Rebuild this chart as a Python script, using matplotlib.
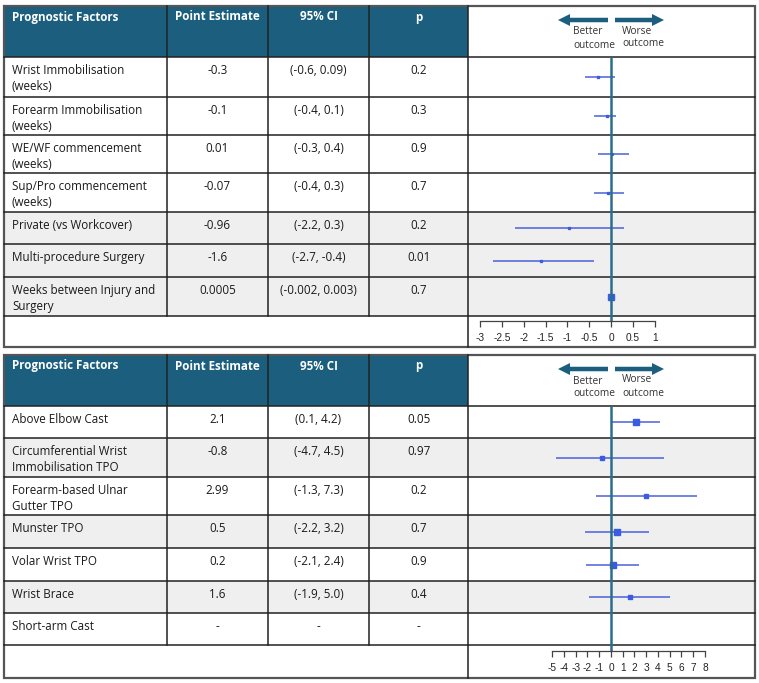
import matplotlib.pyplot as plt
import matplotlib.patches as mpatches
import numpy as np

plt.rcParams['font.family'] = ['Open Sans', 'DejaVu Sans']

# ---- data: top table (post-operative factors)
top_factors = ["Wrist Immobilisation\n(weeks)", "Forearm Immobilisation\n(weeks)",
               "WE/WF commencement\n(weeks)", "Sup/Pro commencement\n(weeks)",
               "Private (vs Workcover)", "Multi-procedure Surgery",
               "Weeks between Injury and\nSurgery"]
top_est = [-0.3, -0.1, 0.01, -0.07, -0.96, -1.6, 0.0005]
top_lo = [-0.6, -0.4, -0.3, -0.4, -2.2, -2.7, -0.002]
top_hi = [0.09, 0.1, 0.4, 0.3, 0.3, -0.4, 0.003]
top_p = ["0.2", "0.3", "0.9", "0.7", "0.2", "0.01", "0.7"]
top_ticks = np.arange(-3, 1.01, 0.5)

# ---- data: bottom table (immobilisation type)
bot_factors = ["Above Elbow Cast", "Circumferential Wrist\nImmobilisation TPO",
               "Forearm-based Ulnar\nGutter TPO", "Munster TPO", "Volar Wrist TPO",
               "Wrist Brace", "Short-arm Cast"]
bot_est = [2.1, -0.8, 2.99, 0.5, 0.2, 1.6, None]
bot_lo = [0.1, -4.7, -1.3, -2.2, -2.1, -1.9, None]
bot_hi = [4.2, 4.5, 7.3, 3.2, 2.4, 5.0, None]
bot_p = ["0.05", "0.97", "0.2", "0.7", "0.9", "0.4", "-"]
bot_ticks = np.arange(-5, 9, 1)

headers = ["Prognostic Factors", "Point Estimate", "95% CI", "p"]

# ---- layout / style
W, H = 759, 683
col_x = [4, 167, 268, 369, 468, 755]
top_rows = [6, 57, 97, 135, 173, 212, 244, 277, 316, 347]
bot_rows = [355, 406, 438, 477, 515, 548, 581, 613, 645, 678]
top_shade = [False, False, False, False, True, True, True]
bot_shade = [False, True, False, True, False, True, False]
top_msize = [1.6, 1.6, 1.2, 1.6, 1.4, 1.4, 5]
bot_msize = [5, 2.4, 3.2, 4.2, 4.2, 3.2, 0]
top_xlim = (-3.274, 3.286)
bot_xlim = (-12.17, 12.26)
top_axis_y, bot_axis_y = 320.7, 651

head_col = '#1b5e7e'
teal = '#2b6e8c'
bar_col = '#4a62d8'
shade_col = '#efefef'
txt_col = '#1a1a1a'
fs = 8.4

fig = plt.figure(figsize=(W / 100, H / 100), dpi=100)
ax = fig.add_axes([0, 0, 1, 1])
ax.set_xlim(0, W)
ax.set_ylim(H, 0)
ax.axis('off')


def draw_table(rows, factors, est, lo, hi, pvals, shade):
    top, bottom = rows[0], rows[-1]
    # header cells
    ax.add_patch(mpatches.Rectangle((col_x[0], top), col_x[4] - col_x[0], rows[1] - top,
                                    facecolor=head_col, edgecolor='none'))
    for i, h in enumerate(headers):
        if i == 0:
            ax.text(col_x[0] + 8, top + 11, h, color='white', fontsize=fs,
                    fontweight='bold', ha='left', va='center')
        else:
            ax.text((col_x[i] + col_x[i + 1]) / 2, top + 11, h, color='white',
                    fontsize=fs, fontweight='bold', ha='center', va='center')
    # body rows
    for r in range(len(factors)):
        y0, y1 = rows[r + 1], rows[r + 2]
        if shade[r]:
            ax.add_patch(mpatches.Rectangle((col_x[0], y0), col_x[5] - col_x[0], y1 - y0,
                                            facecolor=shade_col, edgecolor='none'))
        for k, line in enumerate(factors[r].split('\n')):
            ax.text(col_x[0] + 8, y0 + 13.5 + 16 * k, line, fontsize=fs, color=txt_col,
                    ha='left', va='center')
        if est[r] is None:
            cells = ['-', '-', pvals[r]]
        else:
            cells = [str(est[r]), f"({lo[r]}, {hi[r]})", pvals[r]]
        for c, s in enumerate(cells):
            ax.text((col_x[c + 1] + col_x[c + 2]) / 2, y0 + 13.5, s, fontsize=fs,
                    color=txt_col, ha='center', va='center')
    # grid lines
    for y in rows[1:-1]:
        ax.plot([col_x[0], col_x[5]], [y, y], color='#222222', lw=1.1)
    for x in col_x[1:4]:
        ax.plot([x, x], [top, rows[-2]], color='#222222', lw=1.1)
    ax.plot([col_x[4], col_x[4]], [top, bottom], color='#222222', lw=1.1)
    ax.add_patch(mpatches.Rectangle((col_x[0], top), col_x[5] - col_x[0], bottom - top,
                                    facecolor='none', edgecolor='#555555', lw=1.6))
    # direction arrows
    ay = top + 14
    ax.add_patch(mpatches.FancyArrow(608, ay, -38, 0, width=4.5, head_width=12,
                                     head_length=12, color=head_col, lw=0))
    ax.add_patch(mpatches.FancyArrow(615, ay, 37, 0, width=4.5, head_width=12,
                                     head_length=12, color=head_col, lw=0))
    ax.text(573, top + 26, "Better", fontsize=7.3, color='#333333', ha='left', va='center')
    ax.text(573, top + 39, "outcome", fontsize=7.3, color='#333333', ha='left', va='center')
    ax.text(622, top + 25, "Worse", fontsize=7.3, color='#333333', ha='left', va='center')
    ax.text(622, top + 38, "outcome", fontsize=7.3, color='#333333', ha='left', va='center')


def draw_forest(rows, est, lo, hi, msize, xlim, axis_y, ticks):
    fa = fig.add_axes([col_x[4] / W, 1 - rows[-1] / H, (col_x[5] - col_x[4]) / W,
                       (rows[-1] - rows[1]) / H])
    fa.set_facecolor('none')
    fa.set_xlim(*xlim)
    fa.set_ylim(rows[-1], rows[1])
    centers = [(rows[i + 1] + rows[i + 2]) / 2 for i in range(len(est))]
    for y, e, l, h, m in zip(centers, est, lo, hi, msize):
        if e is None:
            continue
        fa.plot([l, h], [y, y], color=bar_col, lw=1.1, solid_capstyle='butt')
        fa.plot(e, y, marker='s', ms=m, color='#3a5ce0', mec='#3a5ce0')
    fa.vlines(0, rows[1], axis_y, color=teal, lw=1.8)
    for s in ['top', 'left', 'right']:
        fa.spines[s].set_visible(False)
    fa.spines['bottom'].set_position(('data', axis_y))
    fa.spines['bottom'].set_bounds(ticks[0], ticks[-1])
    fa.spines['bottom'].set_color('#444444')
    fa.spines['bottom'].set_linewidth(0.9)
    fa.set_yticks([])
    fa.set_xticks(ticks)
    fa.set_xticklabels([f"{t:g}" for t in ticks], family='Liberation Sans')
    fa.tick_params(axis='x', direction='out', length=4.5, width=0.9, color='#444444',
                   labelsize=7.3, labelcolor='#222222', pad=4)


draw_table(top_rows, top_factors, top_est, top_lo, top_hi, top_p, top_shade)
draw_table(bot_rows, bot_factors, bot_est, bot_lo, bot_hi, bot_p, bot_shade)
draw_forest(top_rows, top_est, top_lo, top_hi, top_msize, top_xlim, top_axis_y, top_ticks)
draw_forest(bot_rows, bot_est, bot_lo, bot_hi, bot_msize, bot_xlim, bot_axis_y, bot_ticks)

fig.savefig('out.png', dpi=100)
